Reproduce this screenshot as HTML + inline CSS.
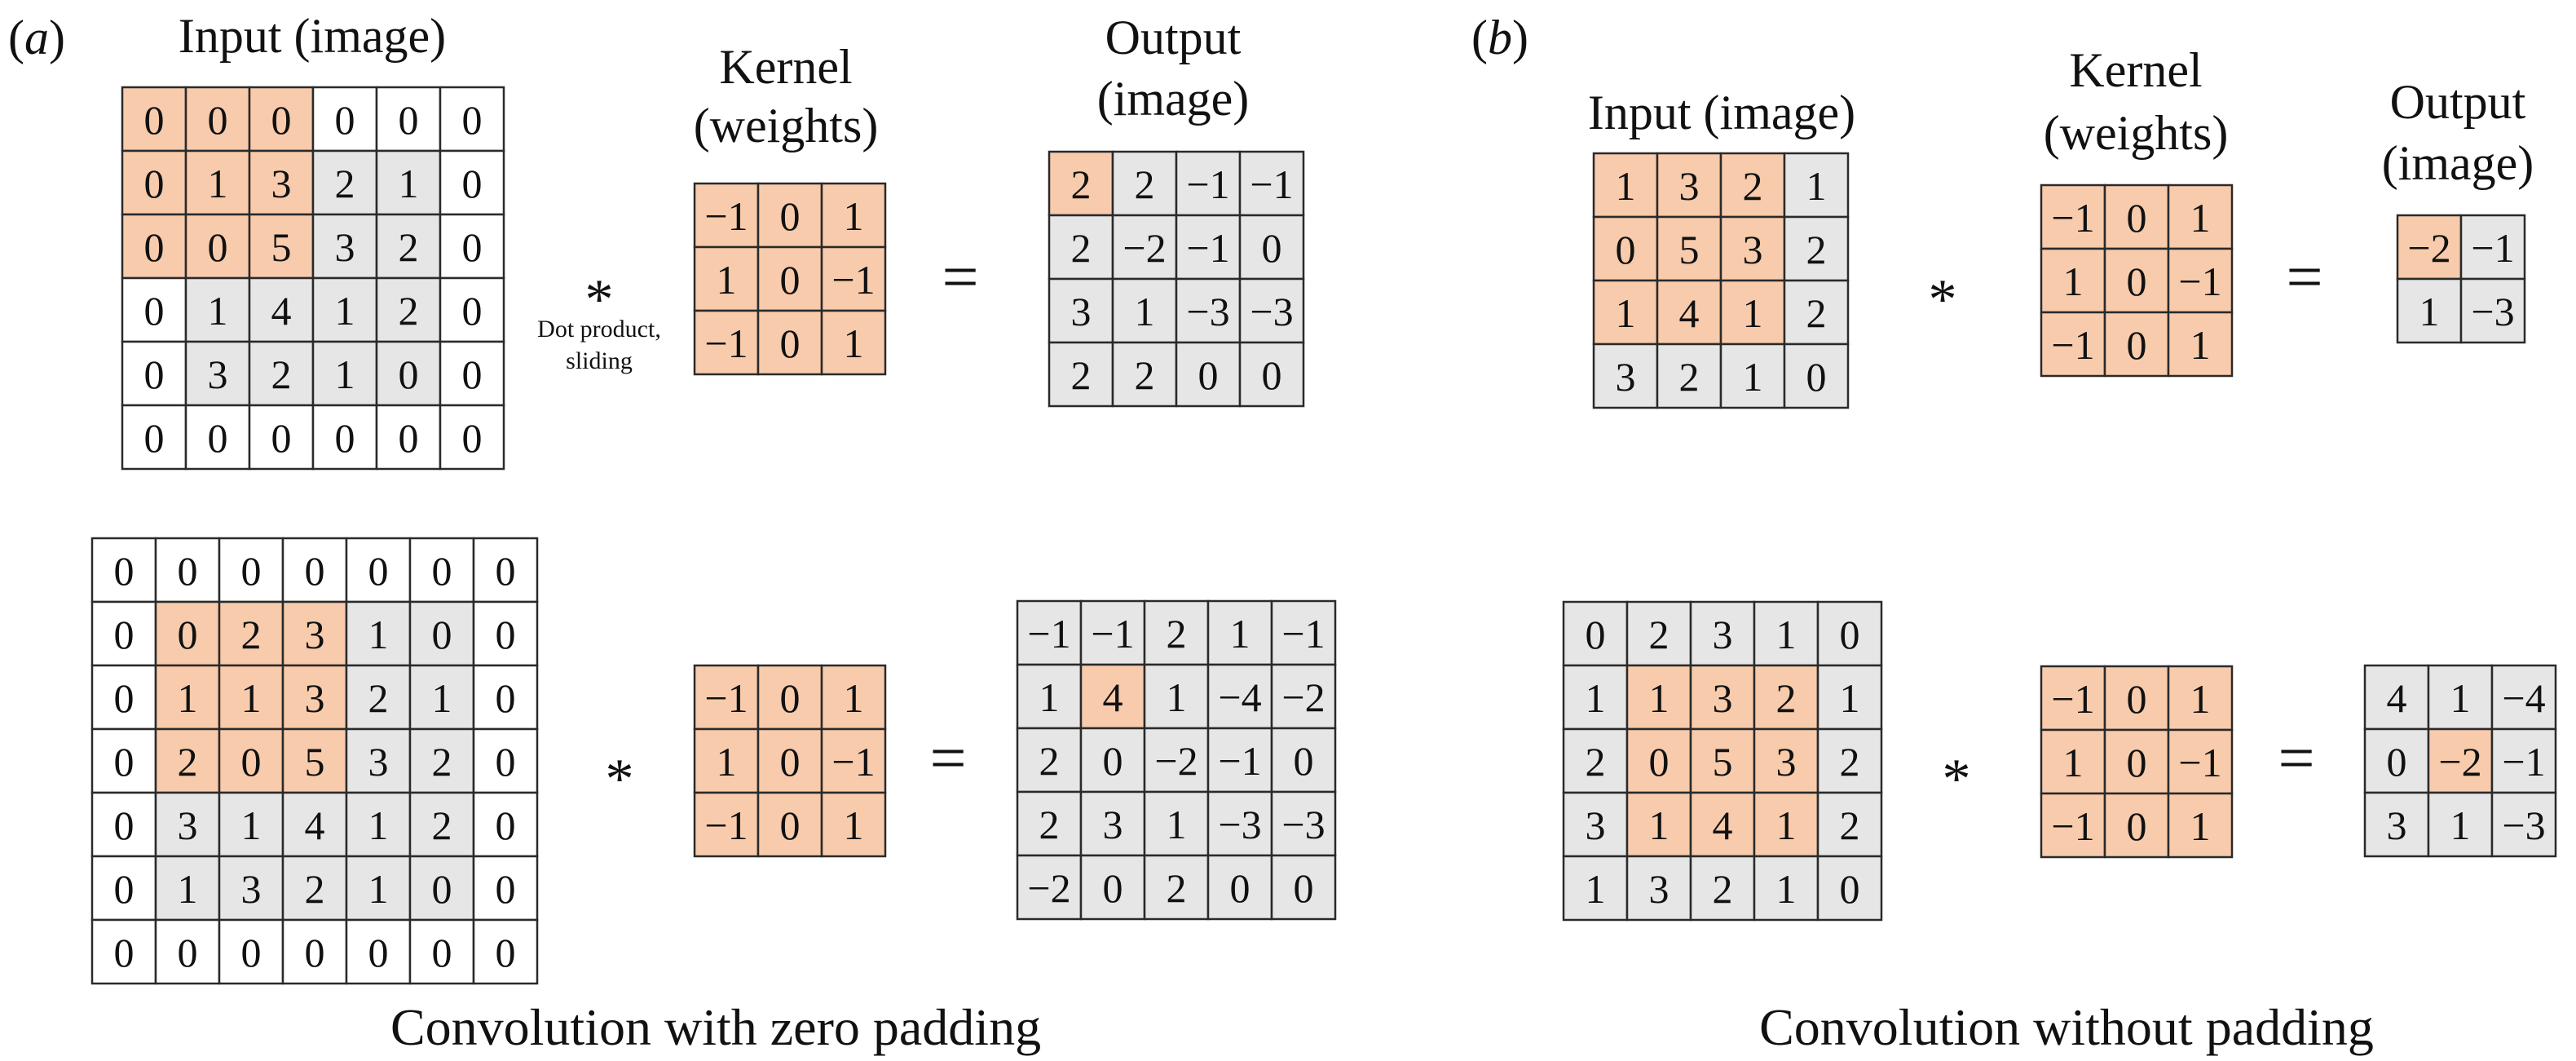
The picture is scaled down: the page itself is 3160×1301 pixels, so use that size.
<!DOCTYPE html>
<html><head><meta charset="utf-8"><style>
html,body{margin:0;padding:0;background:#fff;}
svg{display:block;}
text{font-family:"Liberation Serif",serif;fill:#111;}
.c text{font-size:50px;text-anchor:middle;}
.c rect{stroke:#2a2a2a;stroke-width:2.5;}
.o{fill:#f7cbab}.g{fill:#e6e6e6}.w{fill:#fff}
.t{font-size:60px;text-anchor:middle;}
.cap{font-size:64px;text-anchor:middle;}
.sm{font-size:30px;text-anchor:middle;}
.op{text-anchor:middle;}
</style></head><body>
<svg width="3160" height="1301" viewBox="0 0 3160 1301" xmlns="http://www.w3.org/2000/svg">
<!-- labels -->
<text x="10" y="66" style="font-size:60px">(<tspan font-style="italic">a</tspan>)</text>
<text x="1805" y="66" style="font-size:60px">(<tspan font-style="italic">b</tspan>)</text>
<text class="t" x="383" y="64">Input (image)</text>
<text class="t" x="964" y="102">Kernel</text>
<text class="t" x="964" y="174">(weights)</text>
<text class="t" x="1439" y="66">Output</text>
<text class="t" x="1439" y="141">(image)</text>
<text class="t" x="2112" y="158">Input (image)</text>
<text class="t" x="2620" y="106">Kernel</text>
<text class="t" x="2620" y="183">(weights)</text>
<text class="t" x="3015" y="145">Output</text>
<text class="t" x="3015" y="220">(image)</text>
<text class="op" x="735" y="390" style="font-size:70px">*</text>
<text class="sm" x="735" y="413">Dot product,</text>
<text class="sm" x="735" y="452">sliding</text>
<text class="op" x="1178" y="366" style="font-size:80px">=</text>
<text class="op" x="2383" y="390" style="font-size:70px">*</text>
<text class="op" x="2827" y="366" style="font-size:80px">=</text>
<text class="op" x="760" y="978" style="font-size:70px">*</text>
<text class="op" x="1163" y="956" style="font-size:80px">=</text>
<text class="op" x="2400" y="978" style="font-size:70px">*</text>
<text class="op" x="2817" y="956" style="font-size:80px">=</text>
<text class="cap" x="878" y="1281">Convolution with zero padding</text>
<text class="cap" x="2535" y="1281">Convolution without padding</text>

<!-- Top a input 6x6 -->
<g class="c" transform="translate(150,107)">
<rect class="o" x="0" y="0" width="78" height="78"/><rect class="o" x="78" y="0" width="78" height="78"/><rect class="o" x="156" y="0" width="78" height="78"/><rect class="w" x="234" y="0" width="78" height="78"/><rect class="w" x="312" y="0" width="78" height="78"/><rect class="w" x="390" y="0" width="78" height="78"/>
<rect class="o" x="0" y="78" width="78" height="78"/><rect class="o" x="78" y="78" width="78" height="78"/><rect class="o" x="156" y="78" width="78" height="78"/><rect class="g" x="234" y="78" width="78" height="78"/><rect class="g" x="312" y="78" width="78" height="78"/><rect class="w" x="390" y="78" width="78" height="78"/>
<rect class="o" x="0" y="156" width="78" height="78"/><rect class="o" x="78" y="156" width="78" height="78"/><rect class="o" x="156" y="156" width="78" height="78"/><rect class="g" x="234" y="156" width="78" height="78"/><rect class="g" x="312" y="156" width="78" height="78"/><rect class="w" x="390" y="156" width="78" height="78"/>
<rect class="w" x="0" y="234" width="78" height="78"/><rect class="g" x="78" y="234" width="78" height="78"/><rect class="g" x="156" y="234" width="78" height="78"/><rect class="g" x="234" y="234" width="78" height="78"/><rect class="g" x="312" y="234" width="78" height="78"/><rect class="w" x="390" y="234" width="78" height="78"/>
<rect class="w" x="0" y="312" width="78" height="78"/><rect class="g" x="78" y="312" width="78" height="78"/><rect class="g" x="156" y="312" width="78" height="78"/><rect class="g" x="234" y="312" width="78" height="78"/><rect class="g" x="312" y="312" width="78" height="78"/><rect class="w" x="390" y="312" width="78" height="78"/>
<rect class="w" x="0" y="390" width="78" height="78"/><rect class="w" x="78" y="390" width="78" height="78"/><rect class="w" x="156" y="390" width="78" height="78"/><rect class="w" x="234" y="390" width="78" height="78"/><rect class="w" x="312" y="390" width="78" height="78"/><rect class="w" x="390" y="390" width="78" height="78"/>
<text x="39" y="57">0</text><text x="117" y="57">0</text><text x="195" y="57">0</text><text x="273" y="57">0</text><text x="351" y="57">0</text><text x="429" y="57">0</text>
<text x="39" y="135">0</text><text x="117" y="135">1</text><text x="195" y="135">3</text><text x="273" y="135">2</text><text x="351" y="135">1</text><text x="429" y="135">0</text>
<text x="39" y="213">0</text><text x="117" y="213">0</text><text x="195" y="213">5</text><text x="273" y="213">3</text><text x="351" y="213">2</text><text x="429" y="213">0</text>
<text x="39" y="291">0</text><text x="117" y="291">1</text><text x="195" y="291">4</text><text x="273" y="291">1</text><text x="351" y="291">2</text><text x="429" y="291">0</text>
<text x="39" y="369">0</text><text x="117" y="369">3</text><text x="195" y="369">2</text><text x="273" y="369">1</text><text x="351" y="369">0</text><text x="429" y="369">0</text>
<text x="39" y="447">0</text><text x="117" y="447">0</text><text x="195" y="447">0</text><text x="273" y="447">0</text><text x="351" y="447">0</text><text x="429" y="447">0</text>
</g>

<!-- Kernels -->
<g class="c" transform="translate(852,225)">
<rect class="o" x="0" y="0" width="78" height="78"/><rect class="o" x="78" y="0" width="78" height="78"/><rect class="o" x="156" y="0" width="78" height="78"/>
<rect class="o" x="0" y="78" width="78" height="78"/><rect class="o" x="78" y="78" width="78" height="78"/><rect class="o" x="156" y="78" width="78" height="78"/>
<rect class="o" x="0" y="156" width="78" height="78"/><rect class="o" x="78" y="156" width="78" height="78"/><rect class="o" x="156" y="156" width="78" height="78"/>
<text x="39" y="57">−1</text><text x="117" y="57">0</text><text x="195" y="57">1</text>
<text x="39" y="135">1</text><text x="117" y="135">0</text><text x="195" y="135">−1</text>
<text x="39" y="213">−1</text><text x="117" y="213">0</text><text x="195" y="213">1</text>
</g>
<g class="c" transform="translate(2504,227)">
<rect class="o" x="0" y="0" width="78" height="78"/><rect class="o" x="78" y="0" width="78" height="78"/><rect class="o" x="156" y="0" width="78" height="78"/>
<rect class="o" x="0" y="78" width="78" height="78"/><rect class="o" x="78" y="78" width="78" height="78"/><rect class="o" x="156" y="78" width="78" height="78"/>
<rect class="o" x="0" y="156" width="78" height="78"/><rect class="o" x="78" y="156" width="78" height="78"/><rect class="o" x="156" y="156" width="78" height="78"/>
<text x="39" y="57">−1</text><text x="117" y="57">0</text><text x="195" y="57">1</text>
<text x="39" y="135">1</text><text x="117" y="135">0</text><text x="195" y="135">−1</text>
<text x="39" y="213">−1</text><text x="117" y="213">0</text><text x="195" y="213">1</text>
</g>
<g class="c" transform="translate(852,816)">
<rect class="o" x="0" y="0" width="78" height="78"/><rect class="o" x="78" y="0" width="78" height="78"/><rect class="o" x="156" y="0" width="78" height="78"/>
<rect class="o" x="0" y="78" width="78" height="78"/><rect class="o" x="78" y="78" width="78" height="78"/><rect class="o" x="156" y="78" width="78" height="78"/>
<rect class="o" x="0" y="156" width="78" height="78"/><rect class="o" x="78" y="156" width="78" height="78"/><rect class="o" x="156" y="156" width="78" height="78"/>
<text x="39" y="57">−1</text><text x="117" y="57">0</text><text x="195" y="57">1</text>
<text x="39" y="135">1</text><text x="117" y="135">0</text><text x="195" y="135">−1</text>
<text x="39" y="213">−1</text><text x="117" y="213">0</text><text x="195" y="213">1</text>
</g>
<g class="c" transform="translate(2504,817)">
<rect class="o" x="0" y="0" width="78" height="78"/><rect class="o" x="78" y="0" width="78" height="78"/><rect class="o" x="156" y="0" width="78" height="78"/>
<rect class="o" x="0" y="78" width="78" height="78"/><rect class="o" x="78" y="78" width="78" height="78"/><rect class="o" x="156" y="78" width="78" height="78"/>
<rect class="o" x="0" y="156" width="78" height="78"/><rect class="o" x="78" y="156" width="78" height="78"/><rect class="o" x="156" y="156" width="78" height="78"/>
<text x="39" y="57">−1</text><text x="117" y="57">0</text><text x="195" y="57">1</text>
<text x="39" y="135">1</text><text x="117" y="135">0</text><text x="195" y="135">−1</text>
<text x="39" y="213">−1</text><text x="117" y="213">0</text><text x="195" y="213">1</text>
</g>

<!-- Top a output 4x4 -->
<g class="c" transform="translate(1287,186)">
<rect class="o" x="0" y="0" width="78" height="78"/><rect class="g" x="78" y="0" width="78" height="78"/><rect class="g" x="156" y="0" width="78" height="78"/><rect class="g" x="234" y="0" width="78" height="78"/>
<rect class="g" x="0" y="78" width="78" height="78"/><rect class="g" x="78" y="78" width="78" height="78"/><rect class="g" x="156" y="78" width="78" height="78"/><rect class="g" x="234" y="78" width="78" height="78"/>
<rect class="g" x="0" y="156" width="78" height="78"/><rect class="g" x="78" y="156" width="78" height="78"/><rect class="g" x="156" y="156" width="78" height="78"/><rect class="g" x="234" y="156" width="78" height="78"/>
<rect class="g" x="0" y="234" width="78" height="78"/><rect class="g" x="78" y="234" width="78" height="78"/><rect class="g" x="156" y="234" width="78" height="78"/><rect class="g" x="234" y="234" width="78" height="78"/>
<text x="39" y="57">2</text><text x="117" y="57">2</text><text x="195" y="57">−1</text><text x="273" y="57">−1</text>
<text x="39" y="135">2</text><text x="117" y="135">−2</text><text x="195" y="135">−1</text><text x="273" y="135">0</text>
<text x="39" y="213">3</text><text x="117" y="213">1</text><text x="195" y="213">−3</text><text x="273" y="213">−3</text>
<text x="39" y="291">2</text><text x="117" y="291">2</text><text x="195" y="291">0</text><text x="273" y="291">0</text>
</g>

<!-- Top b input 4x4 -->
<g class="c" transform="translate(1955,188)">
<rect class="o" x="0" y="0" width="78" height="78"/><rect class="o" x="78" y="0" width="78" height="78"/><rect class="o" x="156" y="0" width="78" height="78"/><rect class="g" x="234" y="0" width="78" height="78"/>
<rect class="o" x="0" y="78" width="78" height="78"/><rect class="o" x="78" y="78" width="78" height="78"/><rect class="o" x="156" y="78" width="78" height="78"/><rect class="g" x="234" y="78" width="78" height="78"/>
<rect class="o" x="0" y="156" width="78" height="78"/><rect class="o" x="78" y="156" width="78" height="78"/><rect class="o" x="156" y="156" width="78" height="78"/><rect class="g" x="234" y="156" width="78" height="78"/>
<rect class="g" x="0" y="234" width="78" height="78"/><rect class="g" x="78" y="234" width="78" height="78"/><rect class="g" x="156" y="234" width="78" height="78"/><rect class="g" x="234" y="234" width="78" height="78"/>
<text x="39" y="57">1</text><text x="117" y="57">3</text><text x="195" y="57">2</text><text x="273" y="57">1</text>
<text x="39" y="135">0</text><text x="117" y="135">5</text><text x="195" y="135">3</text><text x="273" y="135">2</text>
<text x="39" y="213">1</text><text x="117" y="213">4</text><text x="195" y="213">1</text><text x="273" y="213">2</text>
<text x="39" y="291">3</text><text x="117" y="291">2</text><text x="195" y="291">1</text><text x="273" y="291">0</text>
</g>

<!-- Top b output 2x2 -->
<g class="c" transform="translate(2941,264)">
<rect class="o" x="0" y="0" width="78" height="78"/><rect class="g" x="78" y="0" width="78" height="78"/>
<rect class="g" x="0" y="78" width="78" height="78"/><rect class="g" x="78" y="78" width="78" height="78"/>
<text x="39" y="57">−2</text><text x="117" y="57">−1</text>
<text x="39" y="135">1</text><text x="117" y="135">−3</text>
</g>

<!-- Bottom a input 7x7 -->
<g class="c" transform="translate(113,660)">
<rect class="w" x="0" y="0" width="78" height="78"/><rect class="w" x="78" y="0" width="78" height="78"/><rect class="w" x="156" y="0" width="78" height="78"/><rect class="w" x="234" y="0" width="78" height="78"/><rect class="w" x="312" y="0" width="78" height="78"/><rect class="w" x="390" y="0" width="78" height="78"/><rect class="w" x="468" y="0" width="78" height="78"/>
<rect class="w" x="0" y="78" width="78" height="78"/><rect class="o" x="78" y="78" width="78" height="78"/><rect class="o" x="156" y="78" width="78" height="78"/><rect class="o" x="234" y="78" width="78" height="78"/><rect class="g" x="312" y="78" width="78" height="78"/><rect class="g" x="390" y="78" width="78" height="78"/><rect class="w" x="468" y="78" width="78" height="78"/>
<rect class="w" x="0" y="156" width="78" height="78"/><rect class="o" x="78" y="156" width="78" height="78"/><rect class="o" x="156" y="156" width="78" height="78"/><rect class="o" x="234" y="156" width="78" height="78"/><rect class="g" x="312" y="156" width="78" height="78"/><rect class="g" x="390" y="156" width="78" height="78"/><rect class="w" x="468" y="156" width="78" height="78"/>
<rect class="w" x="0" y="234" width="78" height="78"/><rect class="o" x="78" y="234" width="78" height="78"/><rect class="o" x="156" y="234" width="78" height="78"/><rect class="o" x="234" y="234" width="78" height="78"/><rect class="g" x="312" y="234" width="78" height="78"/><rect class="g" x="390" y="234" width="78" height="78"/><rect class="w" x="468" y="234" width="78" height="78"/>
<rect class="w" x="0" y="312" width="78" height="78"/><rect class="g" x="78" y="312" width="78" height="78"/><rect class="g" x="156" y="312" width="78" height="78"/><rect class="g" x="234" y="312" width="78" height="78"/><rect class="g" x="312" y="312" width="78" height="78"/><rect class="g" x="390" y="312" width="78" height="78"/><rect class="w" x="468" y="312" width="78" height="78"/>
<rect class="w" x="0" y="390" width="78" height="78"/><rect class="g" x="78" y="390" width="78" height="78"/><rect class="g" x="156" y="390" width="78" height="78"/><rect class="g" x="234" y="390" width="78" height="78"/><rect class="g" x="312" y="390" width="78" height="78"/><rect class="g" x="390" y="390" width="78" height="78"/><rect class="w" x="468" y="390" width="78" height="78"/>
<rect class="w" x="0" y="468" width="78" height="78"/><rect class="w" x="78" y="468" width="78" height="78"/><rect class="w" x="156" y="468" width="78" height="78"/><rect class="w" x="234" y="468" width="78" height="78"/><rect class="w" x="312" y="468" width="78" height="78"/><rect class="w" x="390" y="468" width="78" height="78"/><rect class="w" x="468" y="468" width="78" height="78"/>
<text x="39" y="57">0</text><text x="117" y="57">0</text><text x="195" y="57">0</text><text x="273" y="57">0</text><text x="351" y="57">0</text><text x="429" y="57">0</text><text x="507" y="57">0</text>
<text x="39" y="135">0</text><text x="117" y="135">0</text><text x="195" y="135">2</text><text x="273" y="135">3</text><text x="351" y="135">1</text><text x="429" y="135">0</text><text x="507" y="135">0</text>
<text x="39" y="213">0</text><text x="117" y="213">1</text><text x="195" y="213">1</text><text x="273" y="213">3</text><text x="351" y="213">2</text><text x="429" y="213">1</text><text x="507" y="213">0</text>
<text x="39" y="291">0</text><text x="117" y="291">2</text><text x="195" y="291">0</text><text x="273" y="291">5</text><text x="351" y="291">3</text><text x="429" y="291">2</text><text x="507" y="291">0</text>
<text x="39" y="369">0</text><text x="117" y="369">3</text><text x="195" y="369">1</text><text x="273" y="369">4</text><text x="351" y="369">1</text><text x="429" y="369">2</text><text x="507" y="369">0</text>
<text x="39" y="447">0</text><text x="117" y="447">1</text><text x="195" y="447">3</text><text x="273" y="447">2</text><text x="351" y="447">1</text><text x="429" y="447">0</text><text x="507" y="447">0</text>
<text x="39" y="525">0</text><text x="117" y="525">0</text><text x="195" y="525">0</text><text x="273" y="525">0</text><text x="351" y="525">0</text><text x="429" y="525">0</text><text x="507" y="525">0</text>
</g>

<!-- Bottom a output 5x5 -->
<g class="c" transform="translate(1248,737)">
<rect class="g" x="0" y="0" width="78" height="78"/><rect class="g" x="78" y="0" width="78" height="78"/><rect class="g" x="156" y="0" width="78" height="78"/><rect class="g" x="234" y="0" width="78" height="78"/><rect class="g" x="312" y="0" width="78" height="78"/>
<rect class="g" x="0" y="78" width="78" height="78"/><rect class="o" x="78" y="78" width="78" height="78"/><rect class="g" x="156" y="78" width="78" height="78"/><rect class="g" x="234" y="78" width="78" height="78"/><rect class="g" x="312" y="78" width="78" height="78"/>
<rect class="g" x="0" y="156" width="78" height="78"/><rect class="g" x="78" y="156" width="78" height="78"/><rect class="g" x="156" y="156" width="78" height="78"/><rect class="g" x="234" y="156" width="78" height="78"/><rect class="g" x="312" y="156" width="78" height="78"/>
<rect class="g" x="0" y="234" width="78" height="78"/><rect class="g" x="78" y="234" width="78" height="78"/><rect class="g" x="156" y="234" width="78" height="78"/><rect class="g" x="234" y="234" width="78" height="78"/><rect class="g" x="312" y="234" width="78" height="78"/>
<rect class="g" x="0" y="312" width="78" height="78"/><rect class="g" x="78" y="312" width="78" height="78"/><rect class="g" x="156" y="312" width="78" height="78"/><rect class="g" x="234" y="312" width="78" height="78"/><rect class="g" x="312" y="312" width="78" height="78"/>
<text x="39" y="57">−1</text><text x="117" y="57">−1</text><text x="195" y="57">2</text><text x="273" y="57">1</text><text x="351" y="57">−1</text>
<text x="39" y="135">1</text><text x="117" y="135">4</text><text x="195" y="135">1</text><text x="273" y="135">−4</text><text x="351" y="135">−2</text>
<text x="39" y="213">2</text><text x="117" y="213">0</text><text x="195" y="213">−2</text><text x="273" y="213">−1</text><text x="351" y="213">0</text>
<text x="39" y="291">2</text><text x="117" y="291">3</text><text x="195" y="291">1</text><text x="273" y="291">−3</text><text x="351" y="291">−3</text>
<text x="39" y="369">−2</text><text x="117" y="369">0</text><text x="195" y="369">2</text><text x="273" y="369">0</text><text x="351" y="369">0</text>
</g>

<!-- Bottom b input 5x5 -->
<g class="c" transform="translate(1918,738)">
<rect class="g" x="0" y="0" width="78" height="78"/><rect class="g" x="78" y="0" width="78" height="78"/><rect class="g" x="156" y="0" width="78" height="78"/><rect class="g" x="234" y="0" width="78" height="78"/><rect class="g" x="312" y="0" width="78" height="78"/>
<rect class="g" x="0" y="78" width="78" height="78"/><rect class="o" x="78" y="78" width="78" height="78"/><rect class="o" x="156" y="78" width="78" height="78"/><rect class="o" x="234" y="78" width="78" height="78"/><rect class="g" x="312" y="78" width="78" height="78"/>
<rect class="g" x="0" y="156" width="78" height="78"/><rect class="o" x="78" y="156" width="78" height="78"/><rect class="o" x="156" y="156" width="78" height="78"/><rect class="o" x="234" y="156" width="78" height="78"/><rect class="g" x="312" y="156" width="78" height="78"/>
<rect class="g" x="0" y="234" width="78" height="78"/><rect class="o" x="78" y="234" width="78" height="78"/><rect class="o" x="156" y="234" width="78" height="78"/><rect class="o" x="234" y="234" width="78" height="78"/><rect class="g" x="312" y="234" width="78" height="78"/>
<rect class="g" x="0" y="312" width="78" height="78"/><rect class="g" x="78" y="312" width="78" height="78"/><rect class="g" x="156" y="312" width="78" height="78"/><rect class="g" x="234" y="312" width="78" height="78"/><rect class="g" x="312" y="312" width="78" height="78"/>
<text x="39" y="57">0</text><text x="117" y="57">2</text><text x="195" y="57">3</text><text x="273" y="57">1</text><text x="351" y="57">0</text>
<text x="39" y="135">1</text><text x="117" y="135">1</text><text x="195" y="135">3</text><text x="273" y="135">2</text><text x="351" y="135">1</text>
<text x="39" y="213">2</text><text x="117" y="213">0</text><text x="195" y="213">5</text><text x="273" y="213">3</text><text x="351" y="213">2</text>
<text x="39" y="291">3</text><text x="117" y="291">1</text><text x="195" y="291">4</text><text x="273" y="291">1</text><text x="351" y="291">2</text>
<text x="39" y="369">1</text><text x="117" y="369">3</text><text x="195" y="369">2</text><text x="273" y="369">1</text><text x="351" y="369">0</text>
</g>

<!-- Bottom b output 3x3 -->
<g class="c" transform="translate(2901,816)">
<rect class="g" x="0" y="0" width="78" height="78"/><rect class="g" x="78" y="0" width="78" height="78"/><rect class="g" x="156" y="0" width="78" height="78"/>
<rect class="g" x="0" y="78" width="78" height="78"/><rect class="o" x="78" y="78" width="78" height="78"/><rect class="g" x="156" y="78" width="78" height="78"/>
<rect class="g" x="0" y="156" width="78" height="78"/><rect class="g" x="78" y="156" width="78" height="78"/><rect class="g" x="156" y="156" width="78" height="78"/>
<text x="39" y="57">4</text><text x="117" y="57">1</text><text x="195" y="57">−4</text>
<text x="39" y="135">0</text><text x="117" y="135">−2</text><text x="195" y="135">−1</text>
<text x="39" y="213">3</text><text x="117" y="213">1</text><text x="195" y="213">−3</text>
</g>
</svg>
</body></html>
